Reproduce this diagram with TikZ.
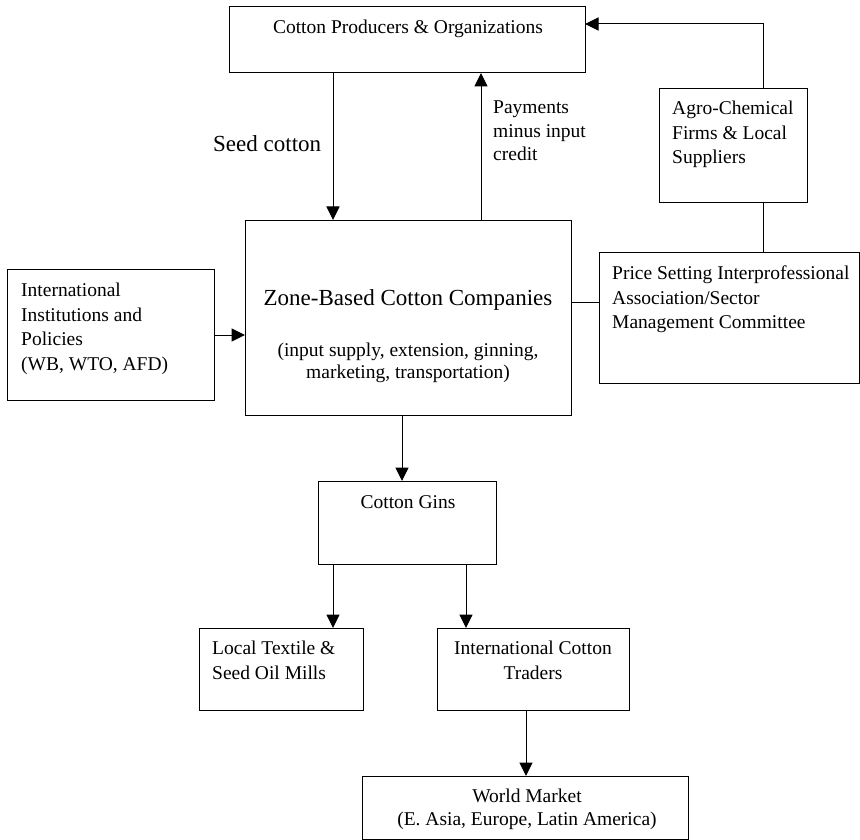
\documentclass[tikz,border=0pt]{standalone}
\usepackage{fontspec}
\setmainfont{Liberation Serif}
\usetikzlibrary{arrows.meta,positioning,calc}

\tikzset{
  box/.style={draw, line width=1pt, inner sep=0pt, outer sep=0pt, anchor=north west},
  txt/.style={inner sep=0pt, font=\fontsize{19.5}{24.5}\selectfont},
  bigtxt/.style={inner sep=0pt, font=\fontsize{23}{27}\selectfont},
  arr/.style={-{Triangle[length=13.5pt,width=13pt]}, line width=1pt},
  link/.style={line width=1pt}
}

\begin{document}
\begin{tikzpicture}[x=1pt, y=-1pt]
    \useasboundingbox (0,0) rectangle (860,840);

    % Boxes
    \node[box, minimum width=356pt, minimum height=66pt] (prod) at (229,7) {};
    \node[box, minimum width=148pt, minimum height=114pt] (agro) at (659,89) {};
    \node[box, minimum width=260pt, minimum height=131pt] (price) at (599,252) {};
    \node[box, minimum width=207pt, minimum height=131pt] (inst) at (7,269) {};
    \node[box, minimum width=326pt, minimum height=195pt] (zone) at (245,220) {};
    \node[box, minimum width=178pt, minimum height=83pt] (gins) at (318,481) {};
    \node[box, minimum width=164pt, minimum height=82pt] (local) at (199,628) {};
    \node[box, minimum width=192pt, minimum height=82pt] (traders) at (437,628) {};
    \node[box, minimum width=326pt, minimum height=63pt] (world) at (362,776) {};

    % Texts in the boxes
    \node[txt, anchor=base] (prodtxt) at (408,34) {Cotton Producers \& Organizations};
    \node[txt, anchor=north west, align=left] (agrotxt) at (672,101)
        {Agro-Chemical\\Firms \& Local\\Suppliers};
    \node[txt, anchor=north west, align=left] (pricetxt) at (612,266)
        {Price Setting Interprofessional\\Association/Sector\\Management Committee};
    \node[txt, anchor=north west, align=left] (insttxt) at (21,283)
        {International\\Institutions and\\Policies\\(WB, WTO, AFD)};
    \node[bigtxt, anchor=base] (zonetxt) at (408,305) {Zone-Based Cotton Companies};
    \node[txt, anchor=north, align=center, font=\fontsize{19.5}{22}\selectfont] (zonesub) at (408,343)
        {(input supply, extension, ginning,\\marketing, transportation)};
    \node[txt, anchor=base] (ginstxt) at (408,508) {Cotton Gins};
    \node[txt, anchor=north west, align=left] (localtxt) at (212,641)
        {Local Textile \&\\Seed Oil Mills};
    \node[txt, anchor=north, align=center] (tradtxt) at (533,641)
        {International Cotton\\Traders};
    \node[txt, anchor=north, align=center, font=\fontsize{19.5}{23}\selectfont] (worldtxt) at (527,789)
        {World Market\\(E. Asia, Europe, Latin America)};

    % Flow labels
    \node[bigtxt, anchor=base west] (seedtxt) at (213,152) {Seed cotton};
    \node[txt, anchor=north west, align=left, font=\fontsize{19.5}{23.5}\selectfont] (paytxt) at (493,101)
        {Payments\\minus input\\credit};

    % Arrows
    \draw[arr] ([xshift=104pt]prod.south west) -- ([xshift=104pt]prod.south west |- zone.north);
    \draw[arr] ([xshift=236pt]zone.north west) -- ([xshift=236pt]zone.north west |- prod.south);
    \draw[arr] ([xshift=30pt]agro.north) |- ([yshift=16pt]prod.east);
    \draw[link] ([xshift=30pt]agro.south) -- ([xshift=30pt]agro.south |- price.north);
    \draw[link] ([yshift=15.5pt]zone.east) -- ([yshift=15.5pt]zone.east -| price.west);
    \draw[arr] ([yshift=-0.5pt]inst.east) -- ([yshift=-0.5pt]inst.east -| zone.west);
    \draw[arr] ([xshift=-6pt]zone.south) -- ([xshift=-6pt]zone.south |- gins.north);
    \draw[arr] ([xshift=15pt]gins.south west) -- ([xshift=15pt]gins.south west |- local.north);
    \draw[arr] ([xshift=-30pt]gins.south east) -- ([xshift=-30pt]gins.south east |- traders.north);
    \draw[arr] ([xshift=-7pt]traders.south) -- ([xshift=-7pt]traders.south |- world.north);
\end{tikzpicture}
\end{document}
